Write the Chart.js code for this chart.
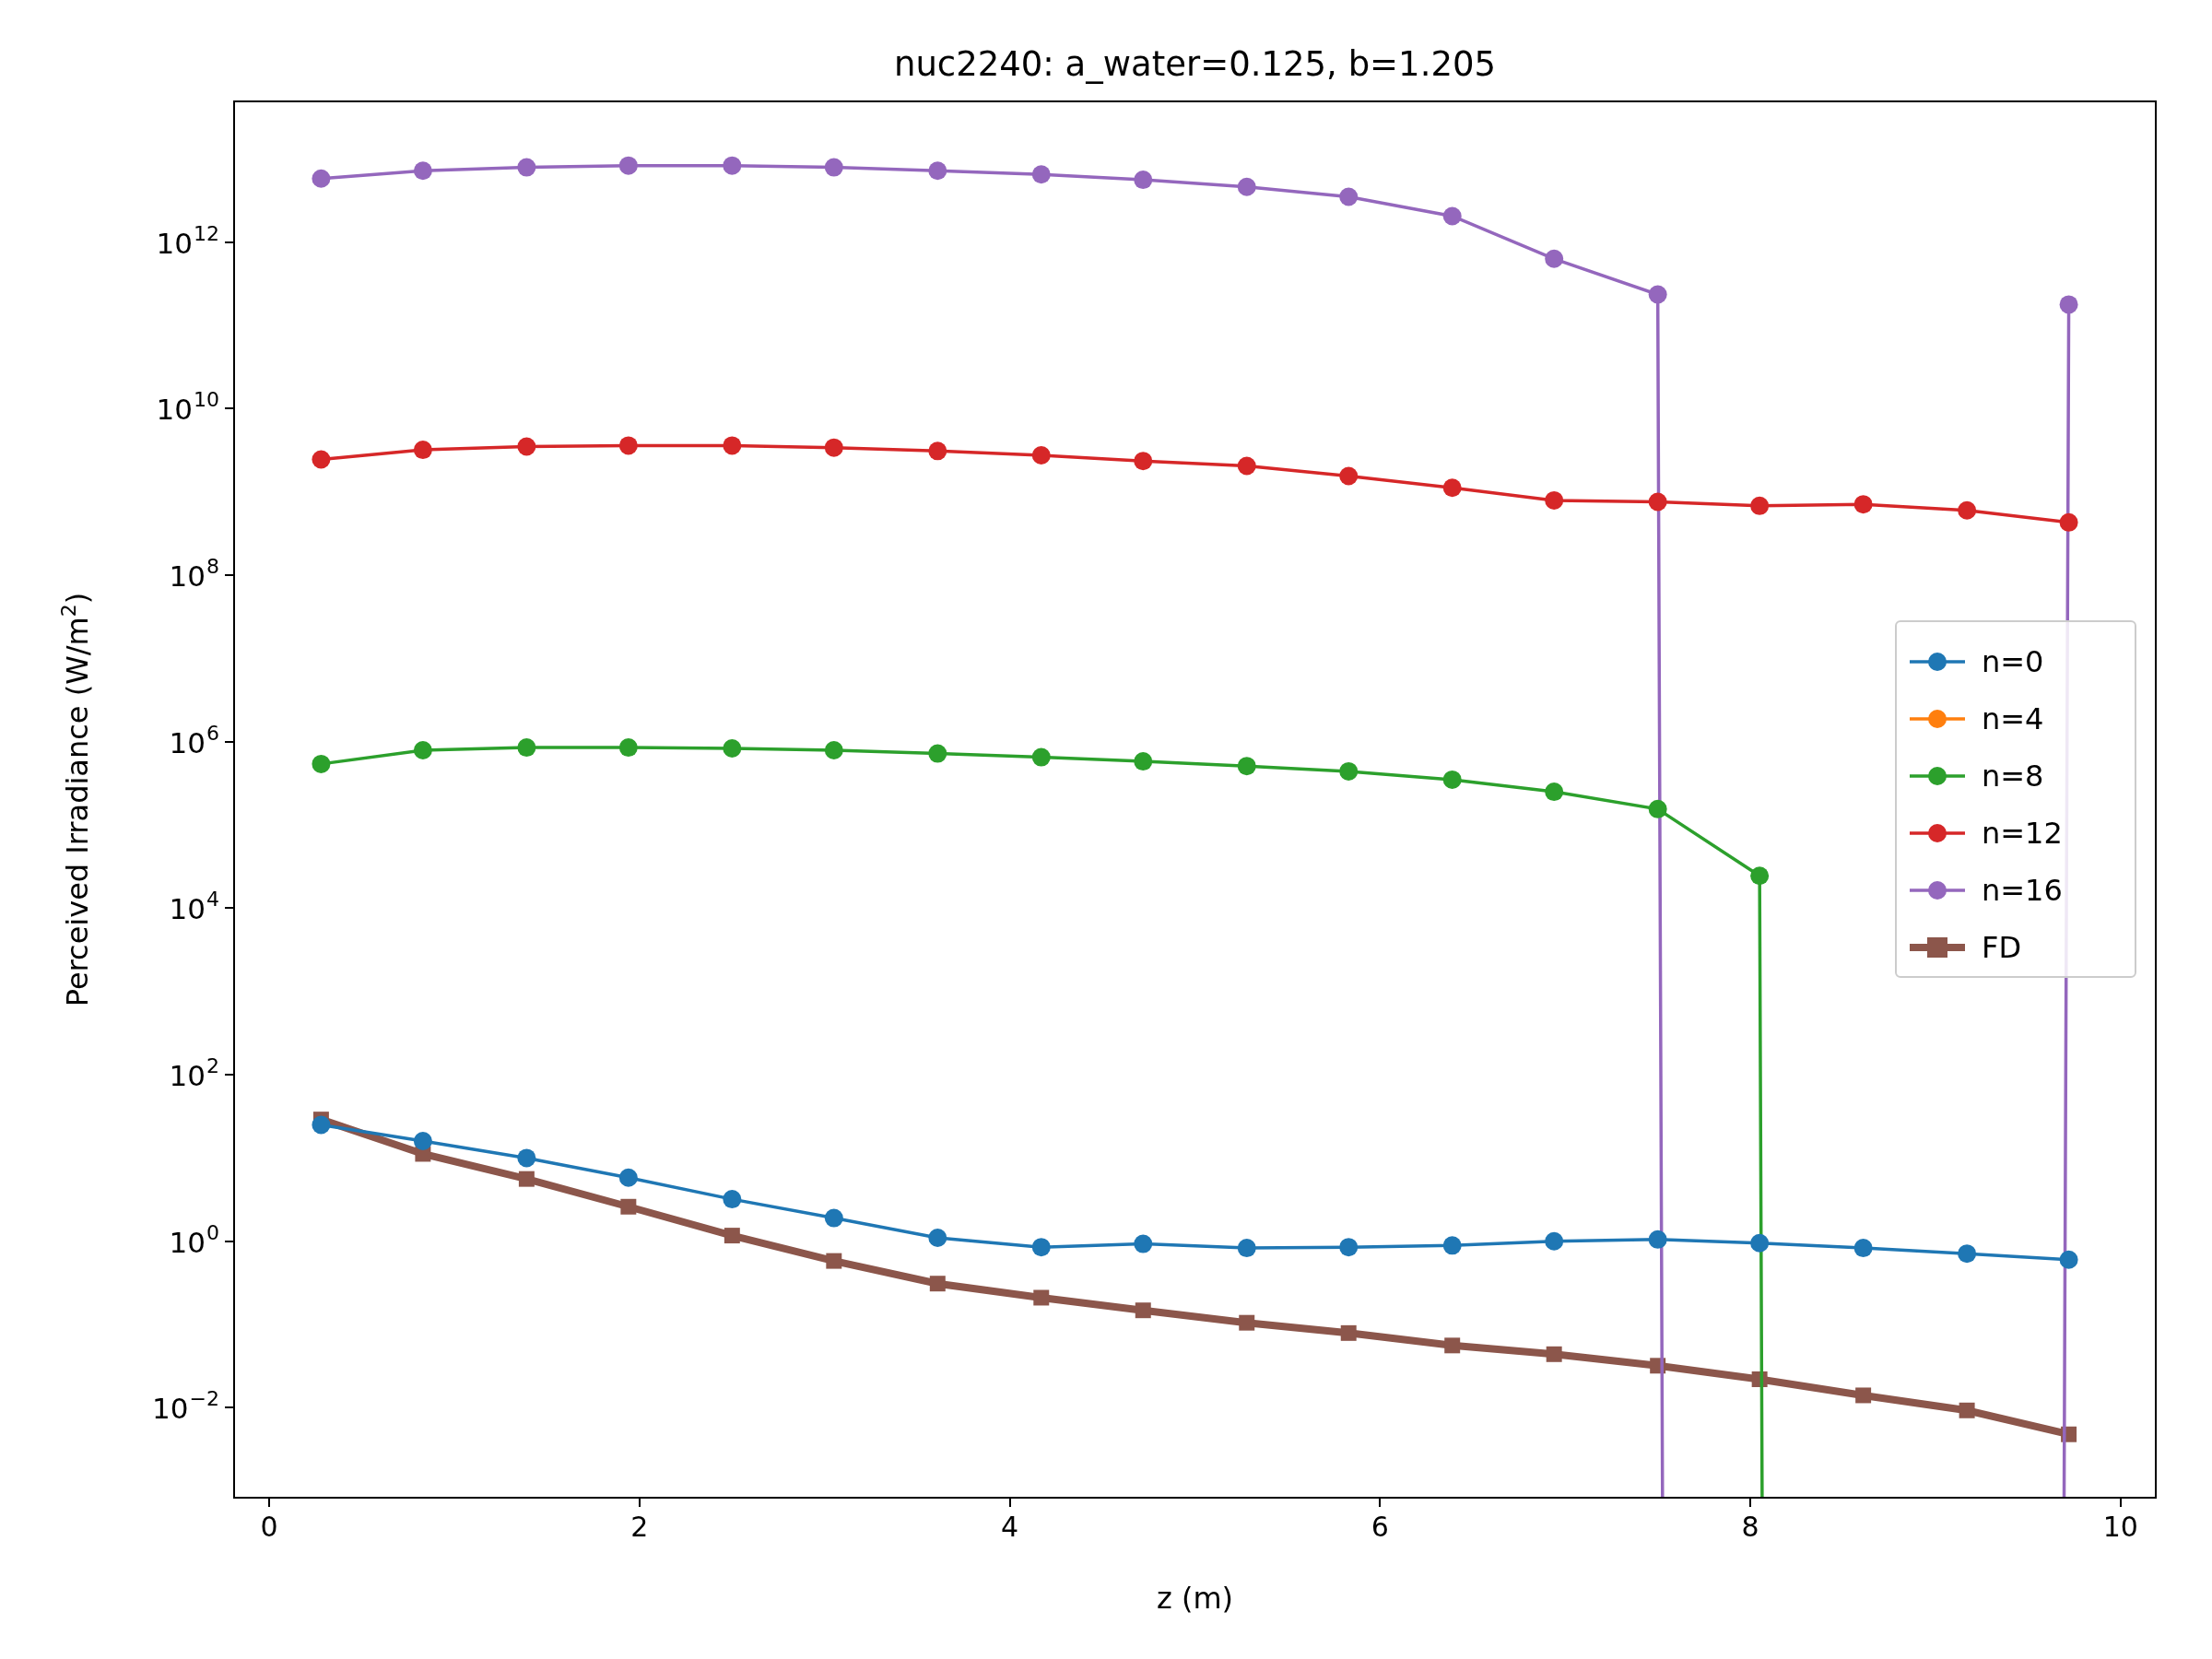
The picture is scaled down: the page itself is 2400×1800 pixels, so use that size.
<!DOCTYPE html>
<html>
<head>
<meta charset="UTF-8">
<title>nuc2240</title>
<script src="https://cdn.jsdelivr.net/npm/chart.js@4.4.3/dist/chart.umd.min.js"></script>
<style>
  body { margin: 0; background: #fff; }
  #wrap { position: relative; width: 2400px; height: 1800px; }
  #legend {
    position: absolute; left: 2056px; top: 673px; width: 262px; height: 388px;
    border: 2px solid #ccc; border-radius: 6px; background: rgba(255,255,255,0.85);
    font-family: "DejaVu Sans", sans-serif; font-size: 32px; box-sizing: border-box;
    padding: 12px 0 0 14px;
  }
  .item { display: flex; align-items: center; height: 62px; }
  .item canvas { margin-right: 18px; }
</style>
</head>
<body>
<div id="wrap">
  <canvas id="c" width="2400" height="1800"></canvas>
  <div id="legend"></div>
</div>
<script>
// depth (m)
const z = [0.28, 0.83, 1.39, 1.94, 2.5, 3.05, 3.61, 4.17, 4.72, 5.28, 5.83, 6.39, 6.94, 7.5, 8.05, 8.61, 9.17, 9.72];
const ZERO = 1e-300; // stands in for 0 on the log axis
const n0 = [25, 16, 10, 5.8, 3.2, 1.9, 1.1, 0.85, 0.93, 0.83, 0.85, 0.89, 1.0, 1.05, 0.95, 0.83, 0.71, 0.6];
const n4 = [null, null, null, null, null, null, null, null, null, null, null, null, null, null, null, null, null, null];
const n8 = [5.4e5, 7.9e5, 8.5e5, 8.5e5, 8.3e5, 7.9e5, 7.2e5, 6.5e5, 5.8e5, 5.1e5, 4.4e5, 3.5e5, 2.5e5, 1.55e5, 2.45e4, ZERO, ZERO, ZERO];
const n12 = [2.45e9, 3.2e9, 3.5e9, 3.6e9, 3.6e9, 3.4e9, 3.1e9, 2.75e9, 2.35e9, 2.05e9, 1.55e9, 1.12e9, 7.9e8, 7.6e8, 6.8e8, 7.1e8, 6.0e8, 4.3e8];
const n16 = [5.8e12, 7.2e12, 7.9e12, 8.3e12, 8.3e12, 7.9e12, 7.2e12, 6.5e12, 5.6e12, 4.6e12, 3.5e12, 2.05e12, 6.3e11, 2.35e11, ZERO, ZERO, ZERO, 1.78e11];
const fd = [29, 11.2, 5.6, 2.6, 1.17, 0.58, 0.31, 0.21, 0.148, 0.105, 0.079, 0.056, 0.044, 0.032, 0.022, 0.0141, 0.0093, 0.0048];
const xTicks = [0, 2, 4, 6, 8, 10];
const yTicks = [1e-2, 1, 1e2, 1e4, 1e6, 1e8, 1e10, 1e12];

const series = [
  { label: 'n=0', data: n0, color: '#1f77b4' },
  { label: 'n=4', data: n4, color: '#ff7f0e' },
  { label: 'n=8', data: n8, color: '#2ca02c' },
  { label: 'n=12', data: n12, color: '#d62728' },
  { label: 'n=16', data: n16, color: '#9467bd' },
  { label: 'FD', data: fd, color: '#8c564b', fd: true }
];

const font = { family: 'DejaVu Sans', size: 30 };

// draws frame, title, y tick labels with real superscripts, axis titles
const frame = {
  id: 'frame',
  afterDraw(chart) {
    const a = chart.chartArea, ctx = chart.ctx, ys = chart.scales.y;
    ctx.save();
    ctx.strokeStyle = '#000'; ctx.lineWidth = 2;
    ctx.strokeRect(a.left, a.top, a.right - a.left, a.bottom - a.top);
    ctx.fillStyle = '#000';
    ctx.font = '37px "DejaVu Sans"';
    ctx.textAlign = 'center';
    ctx.textBaseline = 'alphabetic';
    ctx.fillText('nuc2240: a_water=0.125, b=1.205', (a.left + a.right) / 2, 82);
    // x title
    ctx.font = '32px "DejaVu Sans"';
    ctx.fillText('z (m)', (a.left + a.right) / 2, 1745);
    // y ticks
    yTicks.forEach(v => {
      const y = ys.getPixelForValue(v);
      const e = String(Math.round(Math.log10(v))).replace('-', '\u2212');
      ctx.font = '22px "DejaVu Sans"';
      ctx.textAlign = 'right';
      const ew = ctx.measureText(e).width;
      ctx.fillText(e, a.left - 16, y - 2);
      ctx.font = '31px "DejaVu Sans"';
      ctx.fillText('10', a.left - 16 - ew - 1, y + 12);
    });
    // y title
    ctx.translate(95, (a.top + a.bottom) / 2);
    ctx.rotate(-Math.PI / 2);
    ctx.textAlign = 'center';
    ctx.font = '32px "DejaVu Sans"';
    const t1 = 'Perceived Irradiance (W/m', t2 = ')';
    ctx.font = '32px "DejaVu Sans"';
    const w1 = ctx.measureText(t1).width, w2 = ctx.measureText(t2).width;
    ctx.font = '22px "DejaVu Sans"';
    const ws = ctx.measureText('2').width;
    const start = -(w1 + ws + w2) / 2;
    ctx.textAlign = 'left';
    ctx.font = '32px "DejaVu Sans"';
    ctx.fillText(t1, start, 0);
    ctx.font = '22px "DejaVu Sans"';
    ctx.fillText('2', start + w1, -13);
    ctx.font = '32px "DejaVu Sans"';
    ctx.fillText(t2, start + w1 + ws, 0);
    ctx.restore();
  }
};

new Chart(document.getElementById('c'), {
  type: 'line',
  data: {
    datasets: series.map(s => ({
      label: s.label,
      data: z.map((x, i) => ({ x: x, y: s.data[i] })),
      borderColor: s.color,
      backgroundColor: s.color,
      borderWidth: s.fd ? 8 : 3.5,
      pointRadius: s.fd ? 12 : 10,
      pointStyle: s.fd ? 'rect' : 'circle',
      pointBorderWidth: 0,
      tension: 0,
      spanGaps: false
    }))
  },
  options: {
    responsive: false,
    animation: false,
    devicePixelRatio: 1,
    layout: { padding: { top: 110, right: 61, left: 0, bottom: 0 } },
    plugins: { legend: { display: false }, title: { display: false }, tooltip: { enabled: false } },
    scales: {
      x: {
        type: 'linear', min: -0.19, max: 10.19,
        afterBuildTicks: ax => { ax.ticks = xTicks.map(v => ({ value: v })); },
        afterFit: ax => { ax.height = 175; },
        grid: { drawOnChartArea: false, tickLength: 10, color: '#000', lineWidth: 2 },
        border: { display: false },
        ticks: { color: '#000', font: font, padding: 6, maxRotation: 0 }
      },
      y: {
        type: 'logarithmic', min: Math.pow(10, -3.08), max: Math.pow(10, 13.69),
        afterBuildTicks: ax => { ax.ticks = yTicks.map(v => ({ value: v })); },
        afterFit: ax => { ax.width = 254; },
        grid: { drawOnChartArea: false, tickLength: 10, color: '#000', lineWidth: 2 },
        border: { display: false },
        ticks: { color: 'rgba(0,0,0,0)', font: font, padding: 8, callback: () => '' }
      }
    }
  },
  plugins: [frame]
});

// legend
const lg = document.getElementById('legend');
series.forEach(s => {
  const row = document.createElement('div'); row.className = 'item';
  const cv = document.createElement('canvas'); cv.width = 60; cv.height = 30;
  const g = cv.getContext('2d');
  g.strokeStyle = s.color; g.fillStyle = s.color; g.lineWidth = s.fd ? 8 : 3.5;
  g.beginPath(); g.moveTo(0, 15); g.lineTo(60, 15); g.stroke();
  if (s.fd) g.fillRect(19, 4, 22, 22);
  else { g.beginPath(); g.arc(30, 15, 10, 0, Math.PI * 2); g.fill(); }
  const t = document.createElement('span'); t.textContent = s.label;
  row.appendChild(cv); row.appendChild(t); lg.appendChild(row);
});
</script>
</body>
</html>
